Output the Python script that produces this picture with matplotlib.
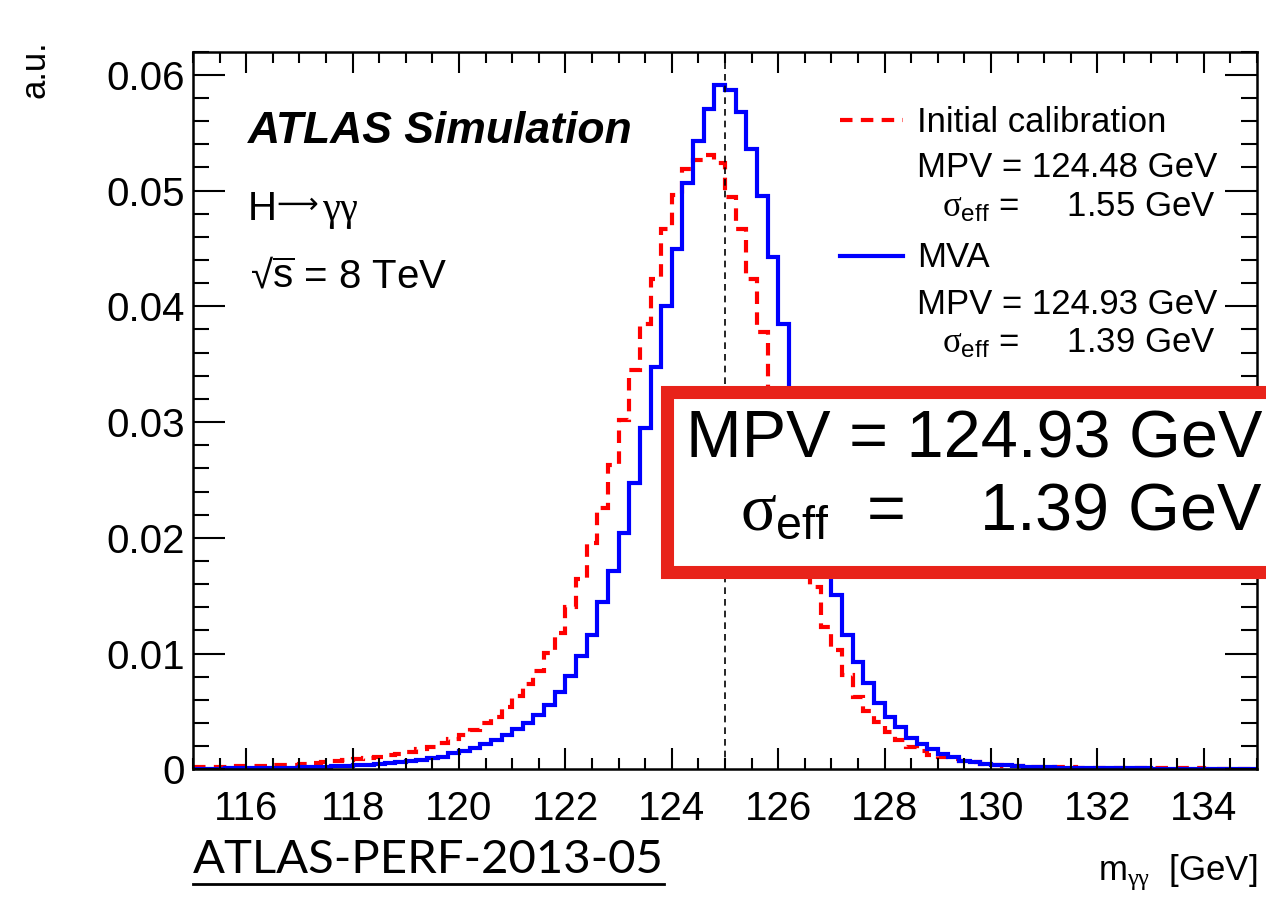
import numpy as np
import matplotlib
matplotlib.use("Agg")
import matplotlib.pyplot as plt
import matplotlib.patches as patches
from matplotlib.lines import Line2D
from matplotlib.ticker import MultipleLocator, FuncFormatter

# m_yy bins (GeV), 0.2 GeV wide
bin_lo = 115.0
bin_hi = 135.0
bin_width = 0.2

# MVA calibration (blue), one row per GeV
mva = [
    0.00005, 0.00006, 0.00006, 0.00007, 0.00008,
    0.00009, 0.00010, 0.00011, 0.00013, 0.00015,
    0.00017, 0.00020, 0.00023, 0.00027, 0.00031,
    0.00036, 0.00041, 0.00047, 0.00055, 0.00063,
    0.00072, 0.00083, 0.00095, 0.00109, 0.00138,
    0.00161, 0.00181, 0.00219, 0.00253, 0.00296,
    0.00345, 0.00403, 0.00469, 0.00553, 0.00671,
    0.00808, 0.00980, 0.01160, 0.01447, 0.01715,
    0.02038, 0.02470, 0.02950, 0.03477, 0.04003,
    0.04493, 0.05069, 0.05428, 0.05702, 0.05909,
    0.05872, 0.05679, 0.05363, 0.04953, 0.04427,
    0.03845, 0.03220, 0.02660, 0.02200, 0.01810,
    0.01505, 0.01160, 0.00929, 0.00748, 0.00576,
    0.00455, 0.00368, 0.00273, 0.00219, 0.00176,
    0.00132, 0.00104, 0.00075, 0.00060, 0.00046,
    0.00040, 0.00035, 0.00026, 0.00023, 0.00020,
    0.00017, 0.00014, 0.00014, 0.00012, 0.00011,
    0.00010, 0.00009, 0.00008, 0.00008, 0.00007,
    0.00006, 0.00006, 0.00005, 0.00005, 0.00005,
    0.00004, 0.00004, 0.00004, 0.00003, 0.00003,
]

# initial calibration (red dashed)
initial = [
    0.00017, 0.00020, 0.00023, 0.00023, 0.00026,
    0.00029, 0.00032, 0.00035, 0.00037, 0.00040,
    0.00046, 0.00055, 0.00063, 0.00072, 0.00081,
    0.00089, 0.00098, 0.00109, 0.00127, 0.00135,
    0.00153, 0.00176, 0.00196, 0.00225, 0.00262,
    0.00300, 0.00340, 0.00397, 0.00455, 0.00541,
    0.00633, 0.00737, 0.00852, 0.01002, 0.01174,
    0.01404, 0.01645, 0.01952, 0.02259, 0.02628,
    0.03016, 0.03454, 0.03851, 0.04234, 0.04666,
    0.04959, 0.05190, 0.05262, 0.05311, 0.05236,
    0.04945, 0.04666, 0.04234, 0.03779, 0.03250,
    0.02750, 0.02300, 0.01900, 0.01577, 0.01231,
    0.01030, 0.00814, 0.00625, 0.00502, 0.00405,
    0.00325, 0.00253, 0.00196, 0.00161, 0.00124,
    0.00104, 0.00089, 0.00075, 0.00060, 0.00046,
    0.00035, 0.00029, 0.00026, 0.00023, 0.00023,
    0.00020, 0.00017, 0.00017, 0.00015, 0.00014,
    0.00013, 0.00012, 0.00011, 0.00010, 0.00010,
    0.00009, 0.00008, 0.00008, 0.00007, 0.00007,
    0.00006, 0.00006, 0.00005, 0.00005, 0.00005,
]

true_mass = 125.0
labels = ["Initial calibration", "MVA"]
mpv = ["124.48", "124.93"]
sigma_eff = ["1.55", "1.39"]

plt.rcParams['font.family'] = ['Liberation Sans', 'DejaVu Sans']
plt.rcParams['mathtext.fontset'] = 'custom'
plt.rcParams['mathtext.rm'] = 'Liberation Sans'
plt.rcParams['mathtext.it'] = 'Liberation Serif'
plt.rcParams['mathtext.bf'] = 'Liberation Sans:bold'

W, H = 1266, 900
fig = plt.figure(figsize=(W / 100, H / 100), dpi=100)
ax = fig.add_axes([193 / W, 1 - 769.3 / H, 1064 / W, 717.6 / H])

edges = np.linspace(bin_lo, bin_hi, len(mva) + 1)
ax.stairs(initial, edges, color='red', lw=3, linestyle=(0, (3, 2)), baseline=None)
ax.stairs(mva, edges, color='blue', lw=3, baseline=None)
ax.axvline(true_mass, color='black', ls=(0, (4, 3)), lw=1.2)

ax.set_xlim(bin_lo, bin_hi)
ax.set_ylim(0, 0.062)
ax.xaxis.set_major_locator(MultipleLocator(2))
ax.xaxis.set_minor_locator(MultipleLocator(0.5))
ax.yaxis.set_major_locator(MultipleLocator(0.01))
ax.yaxis.set_minor_locator(MultipleLocator(0.002))
ax.yaxis.set_major_formatter(FuncFormatter(lambda v, p: '0' if abs(v) < 1e-9 else f'{v:.2f}'))
ax.tick_params(axis='both', which='both', direction='in', top=True, right=True, width=1.5)
ax.tick_params(axis='x', which='major', length=15, labelsize=29, pad=15)
ax.tick_params(axis='x', which='minor', length=8)
ax.tick_params(axis='y', which='major', length=23, labelsize=29, pad=6)
ax.tick_params(axis='y', which='minor', length=11.5)
for s in ax.spines.values():
    s.set_linewidth(1.8)


def ax_x(px):
    return (px - 193) / 1064


def ax_y(py):
    return (769.3 - py) / 717.6


# ATLAS labels
ax.text(ax_x(248), ax_y(143), "ATLAS Simulation", transform=ax.transAxes,
        fontsize=32, fontweight='bold', fontstyle='italic', va='baseline')
ax.text(ax_x(248), ax_y(220), "H", transform=ax.transAxes, fontsize=29, va='baseline')
ax.text(ax_x(276), ax_y(213), "⟶", transform=ax.transAxes, fontsize=21, va='baseline',
        family='DejaVu Sans')
ax.text(ax_x(322), ax_y(220), r"$\gamma\gamma$", transform=ax.transAxes, fontsize=29, va='baseline')
ax.text(ax_x(250), ax_y(288), r"√$\overline{\mathrm{s}}$ = 8 TeV", transform=ax.transAxes,
        fontsize=29, va='baseline')

# legend block
ax.add_line(Line2D([ax_x(840), ax_x(903)], [ax_y(120)] * 2, transform=ax.transAxes,
                   color='red', lw=3, linestyle=(0, (3, 2))))
ax.add_line(Line2D([ax_x(840), ax_x(903)], [ax_y(256)] * 2, transform=ax.transAxes,
                   color='blue', lw=3))
rows = [131.7, 177.3, 216.7, 266.7, 314.0, 353.3]
for k in range(2):
    ax.text(ax_x(917), ax_y(rows[3 * k]), labels[k], transform=ax.transAxes,
            fontsize=25, va='baseline')
    ax.text(ax_x(917), ax_y(rows[3 * k + 1]), f"MPV = {mpv[k]} GeV", transform=ax.transAxes,
            fontsize=25, va='baseline')
    ax.text(ax_x(1216), ax_y(rows[3 * k + 2]), r"$\sigma_{\mathrm{eff}}$ =     " + f"{sigma_eff[k]} GeV",
            transform=ax.transAxes, fontsize=25, va='baseline', ha='right')

# axis titles
fig.text(35 / W, 1 - 40 / H, "a.u.", rotation=90, fontsize=25, ha='center', va='top')
fig.text(1257 / W, 1 - 880 / H, r"m$_{\gamma\gamma}$  [GeV]", fontsize=25, ha='right', va='baseline')

# reference tag, underlined
tag = fig.text(193 / W, 1 - 873 / H, "ATLAS-PERF-2013-05", fontsize=34, family='Lato',
               ha='left', va='baseline')
fig.canvas.draw()
bb = tag.get_window_extent()
fig.add_artist(Line2D([bb.x0 / W, bb.x1 / W], [(900 - 884) / H] * 2, transform=fig.transFigure,
                      color='black', lw=2))

# zoomed-in callout box
fig.add_artist(patches.Rectangle((666.5 / W, 1 - 571.5 / H), (1320 - 666.5) / W, 180 / H,
                                 transform=fig.transFigure, facecolor='white',
                                 edgecolor='#e8231a', lw=9.4, zorder=5, clip_on=False))
fig.text(1262 / W, 1 - 458 / H, f"MPV = {mpv[1]} GeV", fontsize=48, ha='right', va='baseline', zorder=6)
fig.text(1262 / W, 1 - 530 / H, r"$\sigma_{\mathrm{eff}}$  =    " + f"{sigma_eff[1]} GeV",
         fontsize=48, ha='right', va='baseline', zorder=6)

fig.savefig("out.png", dpi=100)
